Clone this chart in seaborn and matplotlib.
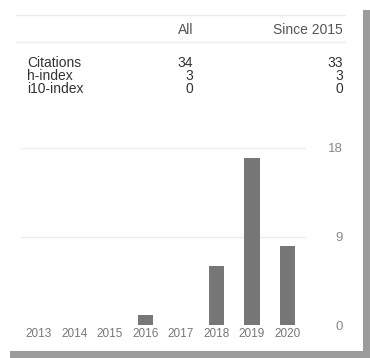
import pandas as pd
import seaborn as sns
import matplotlib.pyplot as plt
from matplotlib.patches import Rectangle
from matplotlib.lines import Line2D

# citation summary table
metrics = ['Citations', 'h-index', 'i10-index']
all_vals = [34, 3, 0]
since_vals = [33, 3, 0]
col_headers = ['All', 'Since 2015']

# citations per year
years = ['2013', '2014', '2015', '2016', '2017', '2018', '2019', '2020']
counts = [0, 0, 0, 1, 0, 6, 17, 8]
yticks = [0, 9, 18]

plt.rcParams['font.family'] = ['Liberation Sans', 'DejaVu Sans']
W, H = 370, 358
fig = plt.figure(figsize=(W / 100, H / 100), dpi=100)
fig.patch.set_facecolor('white')


def fx(px):
    return px / W


def fy(py):
    return 1 - py / H


# drop shadow of the card
shadow = '#9b9b9b'
fig.add_artist(Rectangle((fx(363), fy(358)), fx(7), (348) / H, transform=fig.transFigure,
                         color=shadow, lw=0))
fig.add_artist(Rectangle((fx(10), fy(358)), fx(360), 7 / H, transform=fig.transFigure,
                         color=shadow, lw=0))

# table rules
for py in [15, 42]:
    fig.add_artist(Line2D([fx(16), fx(345)], [fy(py), fy(py)], transform=fig.transFigure,
                          color='#ececec', lw=1))

fig.text(fx(193), fy(30), col_headers[0], ha='right', va='center', fontsize=10, color='#555555')
fig.text(fx(343), fy(30), col_headers[1], ha='right', va='center', fontsize=10, color='#555555')
row_y = [63, 76, 89]
for name, a, s, py in zip(metrics, all_vals, since_vals, row_y):
    fig.text(fx(27), fy(py), name, ha='left', va='center', fontsize=10, color='#333333')
    fig.text(fx(193), fy(py), str(a), ha='right', va='center', fontsize=10, color='#333333')
    fig.text(fx(343), fy(py), str(s), ha='right', va='center', fontsize=10, color='#333333')

# bar chart
df = pd.DataFrame({'year': years, 'citations': counts})
ax = fig.add_axes([fx(21.25), fy(325), fx(284), 177 / H])
sns.barplot(data=df, x='year', y='citations', color='#777777', saturation=1,
            width=0.45, ax=ax, zorder=3)
ax.set_xlim(-0.5, len(years) - 0.5)
ax.set_ylim(0, 18)
for v in yticks[1:]:
    ax.axhline(v, color='#eeeeee', lw=1, zorder=1, clip_on=False)
ax.set_facecolor('none')
for sp in ax.spines.values():
    sp.set_visible(False)
ax.set_xlabel('')
ax.set_ylabel('')
ax.yaxis.tick_right()
ax.set_yticks(yticks)
ax.set_yticklabels([str(t) for t in yticks])
ax.tick_params(axis='y', length=0, pad=27, labelsize=9.5, labelcolor='#888888')
for lbl in ax.get_yticklabels():
    lbl.set_horizontalalignment('right')
ax.tick_params(axis='x', length=0, pad=2, labelsize=8.5, labelcolor='#777777')

fig.savefig('out.png', dpi=100)
